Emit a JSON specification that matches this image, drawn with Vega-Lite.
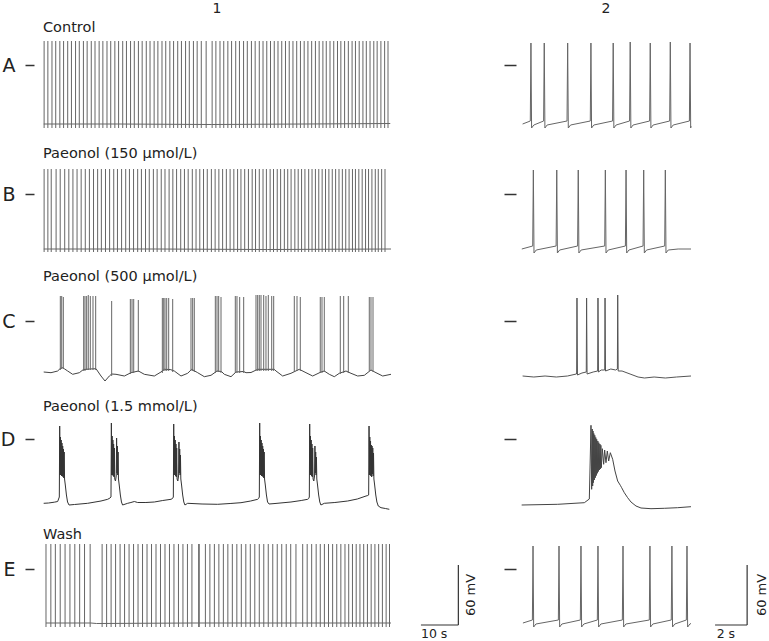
{
"$schema":"https://vega.github.io/schema/vega-lite/v6.json",
"padding":{"left":0,"top":2,"right":0,"bottom":0},
"background":"white",
"config":{"view":{"stroke":null},"axis":{"domain":false,"grid":false,"tickColor":"#333","tickWidth":1.5,"labelFont":"DejaVu Sans","labelFontSize":19,"labelColor":"#222"},"text":{"font":"DejaVu Sans","color":"#222"}},
"columns":2,
"spacing":{"row":0,"column":130},
"align":"each",
"bounds":"flush",
"concat":[
{"width":348,"height":126,"resolve":{"axis":{"y":"independent"}},"layer":[
 {"data":{"name":"A1m"},"mark":{"type":"line","color":"#666","strokeWidth":1},"encoding":{"x":{"field":"t","type":"quantitative","scale":{"domain":[0,93],"nice":false,"zero":false},"axis":null},"y":{"field":"v","type":"quantitative","scale":{"domain":[-97,29],"nice":false,"zero":false},"axis":{"values":[0],"title":null,"labelExpr":"'A'","tickSize":9,"offset":9,"labelPadding":10}}}},
 {"data":{"name":"A1s"},"mark":{"type":"rule","color":"#666","strokeWidth":1},"encoding":{"x":{"field":"t","type":"quantitative","axis":null},"y":{"datum":-63,"axis":null},"y2":{"datum":24}}},
 {"data":{"values":[{"label":"Control"}]},"mark":{"type":"text","align":"left","baseline":"middle","fontSize":14.5},"encoding":{"x":{"datum":0,"axis":null},"y":{"datum":37,"axis":null},"text":{"field":"label","type":"nominal"}}},
 {"data":{"values":[{"label":"1"}]},"mark":{"type":"text","align":"center","baseline":"middle","fontSize":14},"encoding":{"x":{"datum":46.5,"axis":null},"y":{"datum":56,"axis":null},"text":{"field":"label","type":"nominal"}}}
]},
{"width":170,"height":126,"resolve":{"axis":{"y":"independent"}},"layer":[
 {"data":{"name":"A2"},"mark":{"type":"line","color":"#666","strokeWidth":1},"encoding":{"x":{"field":"t","type":"quantitative","scale":{"domain":[0,10.6],"nice":false,"zero":false},"axis":null},"y":{"field":"v","type":"quantitative","scale":{"domain":[-97,29],"nice":false,"zero":false},"axis":{"values":[0],"title":null,"labels":false,"tickSize":12,"offset":5}}}},
 {"data":{"values":[{"label":"2"}]},"mark":{"type":"text","align":"center","baseline":"middle","fontSize":14},"encoding":{"x":{"datum":5.3,"axis":null},"y":{"datum":56,"axis":null},"text":{"field":"label","type":"nominal"}}}
]},
{"width":348,"height":123,"resolve":{"axis":{"y":"independent"}},"layer":[
 {"data":{"name":"B1m"},"mark":{"type":"line","color":"#666","strokeWidth":1},"encoding":{"x":{"field":"t","type":"quantitative","scale":{"domain":[0,93],"nice":false,"zero":false},"axis":null},"y":{"field":"v","type":"quantitative","scale":{"domain":[-91,32],"nice":false,"zero":false},"axis":{"values":[0],"title":null,"labelExpr":"'B'","tickSize":9,"offset":9,"labelPadding":10}}}},
 {"data":{"name":"B1s"},"mark":{"type":"rule","color":"#666","strokeWidth":1},"encoding":{"x":{"field":"t","type":"quantitative","axis":null},"y":{"datum":-58,"axis":null},"y2":{"datum":25}}},
 {"data":{"values":[{"label":"Paeonol (150 μmol/L)"}]},"mark":{"type":"text","align":"left","baseline":"middle","fontSize":14.5},"encoding":{"x":{"datum":0,"axis":null},"y":{"datum":40,"axis":null},"text":{"field":"label","type":"nominal"}}}
]},
{"width":170,"height":123,"layer":[
 {"data":{"name":"B2"},"mark":{"type":"line","color":"#666","strokeWidth":1},"encoding":{"x":{"field":"t","type":"quantitative","scale":{"domain":[0,10.6],"nice":false,"zero":false},"axis":null},"y":{"field":"v","type":"quantitative","scale":{"domain":[-91,32],"nice":false,"zero":false},"axis":{"values":[0],"title":null,"labels":false,"tickSize":12,"offset":5}}}}
]},
{"width":348,"height":130,"resolve":{"axis":{"y":"independent"}},"layer":[
 {"data":{"name":"C1m"},"mark":{"type":"line","color":"#444","strokeWidth":1},"encoding":{"x":{"field":"t","type":"quantitative","scale":{"domain":[0,93],"nice":false,"zero":false},"axis":null},"y":{"field":"v","type":"quantitative","scale":{"domain":[-94,36],"nice":false,"zero":false},"axis":{"values":[0],"title":null,"labelExpr":"'C'","tickSize":9,"offset":9,"labelPadding":10}}}},
 {"data":{"name":"C1s"},"mark":{"type":"rule","color":"#666","strokeWidth":1},"encoding":{"x":{"field":"t","type":"quantitative","axis":null},"y":{"field":"b","type":"quantitative","axis":null},"y2":{"field":"p"}}},
 {"data":{"values":[{"label":"Paeonol (500 μmol/L)"}]},"mark":{"type":"text","align":"left","baseline":"middle","fontSize":14.5},"encoding":{"x":{"datum":0,"axis":null},"y":{"datum":44,"axis":null},"text":{"field":"label","type":"nominal"}}}
]},
{"width":170,"height":130,"layer":[
 {"data":{"name":"C2"},"mark":{"type":"line","color":"#555","strokeWidth":1},"encoding":{"x":{"field":"t","type":"quantitative","scale":{"domain":[0,10.6],"nice":false,"zero":false},"axis":null},"y":{"field":"v","type":"quantitative","scale":{"domain":[-94,36],"nice":false,"zero":false},"axis":{"values":[0],"title":null,"labels":false,"tickSize":12,"offset":5}}}}
]},
{"width":348,"height":128,"resolve":{"axis":{"y":"independent"}},"layer":[
 {"data":{"name":"D1m"},"mark":{"type":"line","color":"#333","strokeWidth":1},"encoding":{"x":{"field":"t","type":"quantitative","scale":{"domain":[0,93],"nice":false,"zero":false},"axis":null},"y":{"field":"v","type":"quantitative","scale":{"domain":[-104,24],"nice":false,"zero":false},"axis":{"values":[0],"title":null,"labelExpr":"'D'","tickSize":9,"offset":9,"labelPadding":10}}}},
 {"data":{"values":[{"label":"Paeonol (1.5 mmol/L)"}]},"mark":{"type":"text","align":"left","baseline":"middle","fontSize":14.5},"encoding":{"x":{"datum":0,"axis":null},"y":{"datum":32,"axis":null},"text":{"field":"label","type":"nominal"}}}
]},
{"width":170,"height":128,"layer":[
 {"data":{"name":"D2"},"mark":{"type":"line","color":"#444","strokeWidth":1},"encoding":{"x":{"field":"t","type":"quantitative","scale":{"domain":[0,10.6],"nice":false,"zero":false},"axis":null},"y":{"field":"v","type":"quantitative","scale":{"domain":[-104,24],"nice":false,"zero":false},"axis":{"values":[0],"title":null,"labels":false,"tickSize":12,"offset":5}}}}
]},
{"width":348,"height":85,"resolve":{"axis":{"y":"independent"}},"layer":[
 {"data":{"name":"E1m"},"mark":{"type":"line","color":"#666","strokeWidth":1},"encoding":{"x":{"field":"t","type":"quantitative","scale":{"domain":[0,93],"nice":false,"zero":false},"axis":null},"y":{"field":"v","type":"quantitative","scale":{"domain":[-59,26],"nice":false,"zero":false},"axis":{"values":[0],"title":null,"labelExpr":"'E'","tickSize":9,"offset":9,"labelPadding":10}}}},
 {"data":{"name":"E1s"},"mark":{"type":"rule","color":"#666","strokeWidth":1},"encoding":{"x":{"field":"t","type":"quantitative","axis":null},"y":{"datum":-58,"axis":null},"y2":{"datum":25}}},
 {"data":{"values":[{"label":"Wash"}]},"mark":{"type":"text","align":"left","baseline":"middle","fontSize":14.5},"encoding":{"x":{"datum":0,"axis":null},"y":{"datum":34,"axis":null},"text":{"field":"label","type":"nominal"}}},
 {"data":{"values":[{"label":"10 s"}]},"layer":[
  {"mark":{"type":"rule","color":"#333","strokeWidth":1.2},"encoding":{"x":{"datum":101,"axis":null},"x2":{"datum":111},"y":{"datum":-56,"axis":null}}},
  {"mark":{"type":"rule","color":"#333","strokeWidth":1.2},"encoding":{"x":{"datum":111,"axis":null},"y":{"datum":-56,"axis":null},"y2":{"datum":4}}},
  {"mark":{"type":"text","align":"left","baseline":"middle","fontSize":12.5},"encoding":{"x":{"datum":101,"axis":null},"y":{"datum":-65,"axis":null},"text":{"field":"label","type":"nominal"}}}
 ]},
 {"data":{"values":[{"label":"60 mV"}]},"mark":{"type":"text","angle":270,"align":"center","baseline":"middle","fontSize":13},"encoding":{"x":{"datum":114.3,"axis":null},"y":{"datum":-26,"axis":null},"text":{"field":"label","type":"nominal"}}}
]},
{"width":170,"height":85,"resolve":{"axis":{"y":"independent"}},"layer":[
 {"data":{"name":"E2"},"mark":{"type":"line","color":"#666","strokeWidth":1},"encoding":{"x":{"field":"t","type":"quantitative","scale":{"domain":[0,10.6],"nice":false,"zero":false},"axis":null},"y":{"field":"v","type":"quantitative","scale":{"domain":[-59,26],"nice":false,"zero":false},"axis":{"values":[0],"title":null,"labels":false,"tickSize":12,"offset":5}}}},
 {"data":{"values":[{"label":"2 s"}]},"layer":[
  {"mark":{"type":"rule","color":"#333","strokeWidth":1.2},"encoding":{"x":{"datum":12.1,"axis":null},"x2":{"datum":14.1},"y":{"datum":-56,"axis":null}}},
  {"mark":{"type":"rule","color":"#333","strokeWidth":1.2},"encoding":{"x":{"datum":14.1,"axis":null},"y":{"datum":-56,"axis":null},"y2":{"datum":4}}},
  {"mark":{"type":"text","align":"left","baseline":"middle","fontSize":12.5},"encoding":{"x":{"datum":12.2,"axis":null},"y":{"datum":-65,"axis":null},"text":{"field":"label","type":"nominal"}}}
 ]},
 {"data":{"values":[{"label":"60 mV"}]},"mark":{"type":"text","angle":270,"align":"center","baseline":"middle","fontSize":13},"encoding":{"x":{"datum":15.0,"axis":null},"y":{"datum":-26,"axis":null},"text":{"field":"label","type":"nominal"}}}
]}
],
"datasets":{
"A1m":[{"t":0.2,"v":-59},{"t":20,"v":-59},{"t":45,"v":-59.5},{"t":70,"v":-59},{"t":92.8,"v":-58.5}],
"A1s":[{"t":0.3},{"t":1.3},{"t":2.4},{"t":3.4},{"t":4.5},{"t":5.5},{"t":6.6},{"t":7.6},{"t":8.7},{"t":9.7},{"t":10.8},{"t":11.8},{"t":12.9},{"t":13.9},{"t":15.0},{"t":16.0},{"t":17.1},{"t":18.1},{"t":19.2},{"t":20.2},{"t":21.3},{"t":22.3},{"t":23.4},{"t":24.4},{"t":25.5},{"t":26.5},{"t":27.6},{"t":28.6},{"t":29.7},{"t":30.7},{"t":31.8},{"t":32.8},{"t":33.9},{"t":34.9},{"t":36.0},{"t":37.0},{"t":38.1},{"t":39.1},{"t":40.2},{"t":41.2},{"t":42.3},{"t":43.6},{"t":45.2},{"t":46.2},{"t":47.3},{"t":48.3},{"t":49.4},{"t":50.4},{"t":51.5},{"t":52.5},{"t":53.6},{"t":54.6},{"t":55.7},{"t":56.7},{"t":57.8},{"t":58.8},{"t":59.8},{"t":60.8},{"t":61.8},{"t":62.8},{"t":63.8},{"t":64.8},{"t":65.8},{"t":66.8},{"t":67.8},{"t":68.8},{"t":69.8},{"t":70.8},{"t":71.8},{"t":72.8},{"t":73.8},{"t":74.8},{"t":75.7},{"t":76.7},{"t":77.7},{"t":78.7},{"t":79.6},{"t":80.6},{"t":81.6},{"t":82.6},{"t":83.5},{"t":84.5},{"t":85.5},{"t":86.4},{"t":87.4},{"t":88.4},{"t":89.3},{"t":90.3},{"t":91.3},{"t":92.2}],
"A2":[{"t":0.1,"v":-59},{"t":0.58,"v":-56},{"t":0.62,"v":22},{"t":0.66,"v":-63},{"t":0.8,"v":-60},{"t":1.41,"v":-56},{"t":1.45,"v":22},{"t":1.49,"v":-63},{"t":1.63,"v":-60},{"t":2.87,"v":-56},{"t":2.91,"v":22},{"t":2.95,"v":-63},{"t":3.09,"v":-60},{"t":4.32,"v":-56},{"t":4.36,"v":22},{"t":4.4,"v":-63},{"t":4.54,"v":-60},{"t":5.71,"v":-56},{"t":5.75,"v":22},{"t":5.79,"v":-63},{"t":5.93,"v":-60},{"t":6.77,"v":-56},{"t":6.81,"v":23},{"t":6.85,"v":-63},{"t":6.99,"v":-60},{"t":8.02,"v":-56},{"t":8.06,"v":22},{"t":8.1,"v":-63},{"t":8.24,"v":-60},{"t":9.27,"v":-56},{"t":9.31,"v":23},{"t":9.35,"v":-63},{"t":9.49,"v":-60},{"t":10.5,"v":-56},{"t":10.54,"v":22},{"t":10.58,"v":-63},{"t":10.6,"v":-61}],
"B1m":[{"t":0.2,"v":-55},{"t":30,"v":-55},{"t":60,"v":-55.5},{"t":93,"v":-55}],
"B1s":[{"t":0.3},{"t":1.3},{"t":2.2},{"t":3.5},{"t":4.6},{"t":5.8},{"t":6.9},{"t":8.0},{"t":9.1},{"t":10.2},{"t":11.3},{"t":12.4},{"t":13.5},{"t":14.6},{"t":15.6},{"t":16.7},{"t":17.8},{"t":18.9},{"t":19.9},{"t":21.0},{"t":22.1},{"t":23.1},{"t":24.2},{"t":25.3},{"t":26.3},{"t":27.4},{"t":28.4},{"t":29.5},{"t":30.5},{"t":31.6},{"t":32.6},{"t":33.7},{"t":34.7},{"t":35.7},{"t":36.8},{"t":37.8},{"t":38.8},{"t":39.9},{"t":40.9},{"t":41.9},{"t":42.9},{"t":43.9},{"t":45.0},{"t":46.0},{"t":47.0},{"t":48.0},{"t":49.0},{"t":50.0},{"t":51.0},{"t":52.0},{"t":52.9},{"t":53.9},{"t":54.9},{"t":55.9},{"t":56.8},{"t":57.8},{"t":58.8},{"t":59.7},{"t":60.7},{"t":61.6},{"t":62.6},{"t":63.5},{"t":64.5},{"t":65.4},{"t":66.3},{"t":67.3},{"t":68.2},{"t":69.1},{"t":70.0},{"t":71.0},{"t":71.9},{"t":72.8},{"t":73.7},{"t":74.6},{"t":75.5},{"t":76.4},{"t":77.3},{"t":78.2},{"t":79.1},{"t":80.0},{"t":80.9},{"t":81.8},{"t":82.7},{"t":83.5},{"t":84.4},{"t":85.3},{"t":86.2},{"t":87.0},{"t":87.9},{"t":88.8},{"t":89.6},{"t":90.5},{"t":91.4}],
"B2":[{"t":0.05,"v":-55},{"t":0.73,"v":-52},{"t":0.77,"v":24},{"t":0.81,"v":-59},{"t":0.95,"v":-56},{"t":2.19,"v":-52},{"t":2.23,"v":24},{"t":2.27,"v":-59},{"t":2.41,"v":-56},{"t":3.53,"v":-52},{"t":3.57,"v":24},{"t":3.61,"v":-59},{"t":3.75,"v":-56},{"t":5.22,"v":-52},{"t":5.26,"v":24},{"t":5.3,"v":-59},{"t":5.44,"v":-56},{"t":6.51,"v":-52},{"t":6.55,"v":24},{"t":6.59,"v":-59},{"t":6.73,"v":-56},{"t":7.61,"v":-52},{"t":7.65,"v":24},{"t":7.69,"v":-59},{"t":7.83,"v":-56},{"t":8.96,"v":-52},{"t":9.0,"v":24},{"t":9.04,"v":-59},{"t":9.18,"v":-56},{"t":9.8,"v":-55},{"t":10.6,"v":-55}],
"C1m":[{"t":0.19,"v":-51},{"t":2.14,"v":-51.7},{"t":3.92,"v":-50},{"t":4.6,"v":-47.5},{"t":5.26,"v":-46.7},{"t":5.8,"v":-48},{"t":6.59,"v":-50},{"t":7.93,"v":-53.3},{"t":9.71,"v":-51.7},{"t":10.8,"v":-48.5},{"t":12.5,"v":-48},{"t":14.16,"v":-47.7},{"t":15.5,"v":-55},{"t":16.57,"v":-60},{"t":17.73,"v":-55},{"t":18.35,"v":-53},{"t":19.51,"v":-53.3},{"t":21.74,"v":-55},{"t":23.52,"v":-51.7},{"t":25.5,"v":-50},{"t":27.08,"v":-53.3},{"t":29.75,"v":-55},{"t":31.53,"v":-51},{"t":32.42,"v":-48.3},{"t":34.0,"v":-48.5},{"t":35.09,"v":-50},{"t":36.88,"v":-55},{"t":38.66,"v":-52.3},{"t":39.73,"v":-48.3},{"t":41.34,"v":-51.7},{"t":43.11,"v":-55.7},{"t":44.9,"v":-54.3},{"t":46.5,"v":-50},{"t":47.7,"v":-50.5},{"t":48.45,"v":-53.3},{"t":50.24,"v":-55.7},{"t":51.58,"v":-51},{"t":53.6,"v":-50.5},{"t":54.25,"v":-51.7},{"t":55.59,"v":-51.5},{"t":57.37,"v":-48.3},{"t":61.81,"v":-48.3},{"t":62.27,"v":-50},{"t":64.05,"v":-55},{"t":66.27,"v":-52.3},{"t":68.49,"v":-48.3},{"t":70.28,"v":-51.7},{"t":72.07,"v":-55},{"t":74.29,"v":-51},{"t":75.17,"v":-50},{"t":76.51,"v":-53.3},{"t":77.85,"v":-55.7},{"t":79.18,"v":-52.3},{"t":80.97,"v":-50},{"t":82.31,"v":-52.3},{"t":84.09,"v":-55},{"t":85.87,"v":-54.3},{"t":87.65,"v":-49},{"t":88.99,"v":-51.7},{"t":90.78,"v":-55},{"t":93.0,"v":-53.3}],
"C1s":[{"t":4.63,"b":-49,"p":25},{"t":5.0,"b":-48,"p":25},{"t":5.43,"b":-48,"p":24},{"t":10.87,"b":-50,"p":25},{"t":11.22,"b":-50,"p":25},{"t":11.67,"b":-49,"p":25},{"t":12.1,"b":-49,"p":26},{"t":12.64,"b":-49,"p":25},{"t":13.36,"b":-49,"p":25},{"t":14.08,"b":-49,"p":25},{"t":18.35,"b":-55,"p":20},{"t":23.34,"b":-53,"p":22},{"t":23.79,"b":-52,"p":22},{"t":24.24,"b":-52,"p":22},{"t":25.47,"b":-51,"p":21},{"t":31.89,"b":-52,"p":23},{"t":32.26,"b":-50,"p":23},{"t":32.6,"b":-50,"p":23},{"t":33.06,"b":-50,"p":23},{"t":33.59,"b":-50,"p":23},{"t":34.66,"b":-51,"p":22},{"t":39.55,"b":-50,"p":23},{"t":40.0,"b":-50,"p":23},{"t":40.43,"b":-51,"p":23},{"t":46.05,"b":-52,"p":25},{"t":46.5,"b":-51,"p":25},{"t":46.95,"b":-51,"p":25},{"t":47.57,"b":-52,"p":24},{"t":51.39,"b":-52,"p":25},{"t":51.84,"b":-52,"p":25},{"t":52.56,"b":-52,"p":24},{"t":53.63,"b":-52,"p":24},{"t":56.92,"b":-50,"p":26},{"t":57.37,"b":-50,"p":26},{"t":57.8,"b":-50,"p":26},{"t":58.26,"b":-50,"p":26},{"t":58.98,"b":-50,"p":26},{"t":59.59,"b":-50,"p":25},{"t":60.21,"b":-50,"p":26},{"t":61.12,"b":-50,"p":25},{"t":61.65,"b":-50,"p":25},{"t":67.16,"b":-51,"p":25},{"t":67.88,"b":-50,"p":25},{"t":68.76,"b":-50,"p":24},{"t":74.1,"b":-52,"p":24},{"t":74.56,"b":-52,"p":24},{"t":75.17,"b":-51,"p":24},{"t":79.45,"b":-53,"p":25},{"t":80.36,"b":-52,"p":25},{"t":81.59,"b":-52,"p":25},{"t":87.2,"b":-50,"p":24},{"t":87.65,"b":-50,"p":24},{"t":88.19,"b":-51,"p":24}],
"C2":[{"t":0.1,"v":-55},{"t":0.8,"v":-56},{"t":1.5,"v":-55},{"t":2.2,"v":-56},{"t":2.9,"v":-55},{"t":3.45,"v":-53},{"t":3.47,"v":-52},{"t":3.49,"v":23},{"t":3.52,"v":-54},{"t":3.8,"v":-52},{"t":4.07,"v":-51},{"t":4.09,"v":23},{"t":4.12,"v":-53},{"t":4.5,"v":-51},{"t":4.78,"v":-50},{"t":4.8,"v":23},{"t":4.83,"v":-51},{"t":5.0,"v":-49},{"t":5.22,"v":-49},{"t":5.24,"v":23},{"t":5.27,"v":-50},{"t":5.6,"v":-48},{"t":5.9,"v":-49},{"t":6.01,"v":-48},{"t":6.03,"v":26},{"t":6.06,"v":-50},{"t":6.3,"v":-50},{"t":6.8,"v":-53},{"t":7.3,"v":-56},{"t":7.7,"v":-57},{"t":8.3,"v":-56},{"t":9.0,"v":-57},{"t":9.7,"v":-56},{"t":10.6,"v":-55}],
"D1m":[{"t":0.18,"v":-64.3},{"t":1.5,"v":-64},{"t":3.0,"v":-63.2},{"t":3.92,"v":-62.5},{"t":4.36,"v":-58},{"t":4.46,"v":13},{"t":4.56,"v":-36},{"t":4.66,"v":2},{"t":4.76,"v":-36},{"t":4.86,"v":-1},{"t":4.96,"v":-37},{"t":5.06,"v":-4},{"t":5.16,"v":-37},{"t":5.26,"v":-7},{"t":5.36,"v":-38},{"t":5.46,"v":-10},{"t":5.56,"v":-39},{"t":5.66,"v":-13},{"t":5.76,"v":-40},{"t":5.96,"v":-46},{"t":6.26,"v":-56},{"t":6.56,"v":-63},{"t":6.96,"v":-66},{"t":8.4,"v":-65.5},{"t":11.94,"v":-64.3},{"t":15.5,"v":-62},{"t":17.28,"v":-60.3},{"t":17.9,"v":-59},{"t":18.17,"v":-58},{"t":18.27,"v":16},{"t":18.37,"v":-36},{"t":18.47,"v":3},{"t":18.57,"v":-36},{"t":18.67,"v":-1},{"t":18.77,"v":-37},{"t":18.87,"v":-5},{"t":18.97,"v":-38},{"t":19.07,"v":-9},{"t":19.17,"v":-40},{"t":19.37,"v":-42},{"t":19.57,"v":-37},{"t":19.67,"v":1},{"t":19.77,"v":-34},{"t":19.87,"v":-7},{"t":19.97,"v":-36},{"t":20.07,"v":-13},{"t":20.17,"v":-40},{"t":20.37,"v":-46},{"t":20.67,"v":-56},{"t":20.97,"v":-63},{"t":21.27,"v":-66},{"t":22.63,"v":-64.3},{"t":23.5,"v":-63.5},{"t":24.41,"v":-62.5},{"t":25.3,"v":-63.5},{"t":27.5,"v":-63.5},{"t":29.75,"v":-63},{"t":32.0,"v":-61.5},{"t":34.21,"v":-60.3},{"t":34.6,"v":-59.5},{"t":34.83,"v":-58},{"t":34.93,"v":15},{"t":35.03,"v":-36},{"t":35.13,"v":3},{"t":35.23,"v":-36},{"t":35.33,"v":-1},{"t":35.43,"v":-37},{"t":35.53,"v":-5},{"t":35.63,"v":-38},{"t":35.73,"v":-9},{"t":35.83,"v":-40},{"t":36.03,"v":-42},{"t":36.23,"v":-37},{"t":36.33,"v":-3},{"t":36.43,"v":-34},{"t":36.53,"v":-10},{"t":36.63,"v":-36},{"t":36.73,"v":-16},{"t":36.83,"v":-40},{"t":37.03,"v":-46},{"t":37.33,"v":-56},{"t":37.63,"v":-63},{"t":37.93,"v":-66},{"t":38.66,"v":-64.3},{"t":42.5,"v":-65},{"t":46.68,"v":-65.3},{"t":50,"v":-64.5},{"t":52.91,"v":-63.7},{"t":55.5,"v":-62},{"t":57.37,"v":-60.3},{"t":57.6,"v":-59.5},{"t":57.81,"v":-58},{"t":57.91,"v":16},{"t":58.01,"v":-36},{"t":58.11,"v":3},{"t":58.21,"v":-36},{"t":58.31,"v":-1},{"t":58.41,"v":-37},{"t":58.51,"v":-4},{"t":58.61,"v":-37},{"t":58.71,"v":-7},{"t":58.81,"v":-38},{"t":58.91,"v":-10},{"t":59.01,"v":-39},{"t":59.11,"v":-13},{"t":59.21,"v":-40},{"t":59.41,"v":-46},{"t":59.71,"v":-56},{"t":60.01,"v":-63},{"t":60.41,"v":-65},{"t":62,"v":-64.5},{"t":66.27,"v":-63},{"t":69,"v":-61.5},{"t":70.73,"v":-60.3},{"t":71.0,"v":-59.5},{"t":71.17,"v":-58},{"t":71.27,"v":15},{"t":71.37,"v":-36},{"t":71.47,"v":3},{"t":71.57,"v":-36},{"t":71.67,"v":-1},{"t":71.77,"v":-37},{"t":71.87,"v":-5},{"t":71.97,"v":-38},{"t":72.07,"v":-9},{"t":72.17,"v":-40},{"t":72.37,"v":-42},{"t":72.57,"v":-37},{"t":72.67,"v":-7},{"t":72.77,"v":-34},{"t":72.87,"v":-13},{"t":72.97,"v":-36},{"t":73.07,"v":-18},{"t":73.17,"v":-40},{"t":73.37,"v":-46},{"t":73.67,"v":-56},{"t":73.97,"v":-63},{"t":74.27,"v":-66},{"t":75.18,"v":-64.3},{"t":78,"v":-63.5},{"t":81.42,"v":-62},{"t":84,"v":-60},{"t":86.32,"v":-57},{"t":86.8,"v":-56.5},{"t":87.03,"v":-56},{"t":87.13,"v":13},{"t":87.23,"v":-36},{"t":87.33,"v":2},{"t":87.43,"v":-36},{"t":87.53,"v":-2},{"t":87.63,"v":-37},{"t":87.73,"v":-6},{"t":87.83,"v":-38},{"t":87.93,"v":-7},{"t":88.03,"v":-35},{"t":88.13,"v":-9},{"t":88.23,"v":-37},{"t":88.33,"v":-14},{"t":88.43,"v":-40},{"t":88.63,"v":-46},{"t":88.93,"v":-56},{"t":89.23,"v":-63},{"t":89.6,"v":-67},{"t":90.33,"v":-68.7},{"t":91.5,"v":-69.5},{"t":92.55,"v":-70.3}],
"D2":[{"t":0.04,"v":-66},{"t":2.29,"v":-65.3},{"t":3.95,"v":-63.7},{"t":4.26,"v":-60},{"t":4.364,"v":13.7},{"t":4.406,"v":-50.3},{"t":4.44,"v":10},{"t":4.468,"v":-47},{"t":4.49,"v":8},{"t":4.51,"v":-43.7},{"t":4.54,"v":5.5},{"t":4.572,"v":-41},{"t":4.6,"v":3.7},{"t":4.634,"v":-38.7},{"t":4.66,"v":1.5},{"t":4.697,"v":-36.5},{"t":4.72,"v":-0.3},{"t":4.759,"v":-34.3},{"t":4.79,"v":-2},{"t":4.821,"v":-32.5},{"t":4.85,"v":-3.7},{"t":4.884,"v":-31},{"t":4.92,"v":-5},{"t":4.946,"v":-30},{"t":4.98,"v":-6.3},{"t":5.008,"v":-28.7},{"t":5.071,"v":-9.7},{"t":5.154,"v":-25.3},{"t":5.216,"v":-11},{"t":5.299,"v":-23.7},{"t":5.382,"v":-12},{"t":5.466,"v":-22},{"t":5.57,"v":-13.7},{"t":5.716,"v":-20.3},{"t":5.861,"v":-32},{"t":6.027,"v":-42},{"t":6.193,"v":-46.3},{"t":6.276,"v":-48.7},{"t":6.442,"v":-53.7},{"t":6.65,"v":-58.7},{"t":6.858,"v":-63},{"t":7.17,"v":-67},{"t":7.482,"v":-69},{"t":8.105,"v":-69.7},{"t":8.936,"v":-69.3},{"t":9.767,"v":-68.7},{"t":10.599,"v":-67.7}],
"E1m":[{"t":0.8,"v":-54},{"t":12.8,"v":-54},{"t":14.3,"v":-54.5},{"t":40,"v":-54},{"t":70,"v":-54},{"t":93,"v":-54}],
"E1s":[{"t":0.8},{"t":2.1},{"t":3.3},{"t":4.6},{"t":5.9},{"t":7.2},{"t":8.5},{"t":9.8},{"t":11.1},{"t":12.6},{"t":15.8},{"t":17.0},{"t":18.2},{"t":19.4},{"t":20.6},{"t":21.8},{"t":23.0},{"t":24.2},{"t":25.4},{"t":26.6},{"t":27.8},{"t":29.0},{"t":30.2},{"t":31.4},{"t":32.6},{"t":33.8},{"t":35.0},{"t":36.2},{"t":37.4},{"t":38.6},{"t":39.8},{"t":41.6},{"t":41.75},{"t":43.4},{"t":44.6},{"t":45.8},{"t":47.0},{"t":48.2},{"t":49.4},{"t":50.6},{"t":51.8},{"t":53.0},{"t":54.2},{"t":55.4},{"t":56.6},{"t":57.8},{"t":59.0},{"t":60.2},{"t":61.4},{"t":62.6},{"t":63.8},{"t":65.0},{"t":66.2},{"t":67.6},{"t":69.4},{"t":70.6},{"t":71.8},{"t":73.0},{"t":74.1},{"t":75.2},{"t":76.3},{"t":77.4},{"t":78.5},{"t":79.6},{"t":80.7},{"t":81.7},{"t":82.7},{"t":83.7},{"t":84.7},{"t":85.7},{"t":86.7},{"t":87.7},{"t":88.7},{"t":89.7},{"t":90.7},{"t":91.7},{"t":92.6}],
"E2":[{"t":0.12,"v":-54},{"t":0.71,"v":-51},{"t":0.75,"v":23},{"t":0.79,"v":-58},{"t":0.93,"v":-55},{"t":2.33,"v":-51},{"t":2.37,"v":23},{"t":2.41,"v":-58},{"t":2.55,"v":-55},{"t":3.7,"v":-51},{"t":3.74,"v":23},{"t":3.78,"v":-58},{"t":3.92,"v":-55},{"t":4.76,"v":-51},{"t":4.8,"v":23},{"t":4.84,"v":-58},{"t":4.98,"v":-55},{"t":6.32,"v":-51},{"t":6.36,"v":23},{"t":6.4,"v":-58},{"t":6.54,"v":-55},{"t":8.0,"v":-51},{"t":8.04,"v":23},{"t":8.08,"v":-58},{"t":8.22,"v":-55},{"t":9.37,"v":-51},{"t":9.41,"v":23},{"t":9.45,"v":-58},{"t":9.59,"v":-55},{"t":10.31,"v":-51},{"t":10.35,"v":23},{"t":10.39,"v":-58},{"t":10.53,"v":-55},{"t":10.6,"v":-54.5}]
}
}
